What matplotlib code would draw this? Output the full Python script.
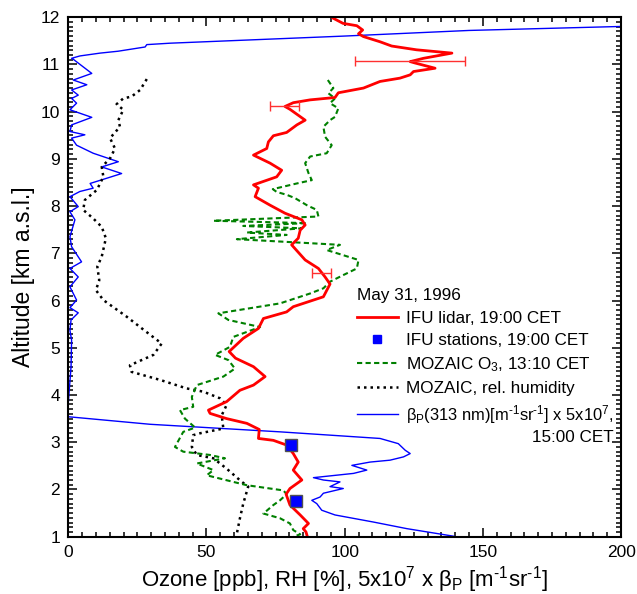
import matplotlib
matplotlib.use("Agg")
import matplotlib.pyplot as plt
from matplotlib.lines import Line2D
from matplotlib.ticker import MultipleLocator
import numpy as np

plt.rcParams['font.family'] = ['Liberation Sans', 'DejaVu Sans']
plt.rcParams['mathtext.fontset'] = 'custom'
plt.rcParams['mathtext.rm'] = 'Liberation Sans'
plt.rcParams['mathtext.it'] = 'Liberation Sans:italic'

# IFU lidar ozone profile (altitude km, ozone ppb)
lidar_alt = [11.98, 11.87, 11.82, 11.73, 11.65, 11.59, 11.48, 11.39, 11.31, 11.24,
             11.13, 11.06, 11.03, 10.92, 10.85, 10.78, 10.71, 10.64, 10.50, 10.40,
             10.30, 10.25, 10.19, 10.11, 10.05, 9.82, 9.72, 9.56, 9.49, 9.36,
             9.22, 9.08, 8.91, 8.76, 8.62, 8.45, 8.38, 8.20, 8.02, 7.85,
             7.71, 7.60, 7.49, 7.32, 7.18, 6.86, 6.68, 6.50, 6.35, 6.08,
             5.87, 5.76, 5.62, 5.41, 5.20, 4.92, 4.78, 4.60, 4.39, 4.21,
             4.10, 3.86, 3.68, 3.61, 3.50, 3.40, 3.27, 3.08, 3.04, 2.94,
             2.76, 2.58, 2.41, 2.20, 2.02, 1.90, 1.67, 1.46, 1.28, 1.17,
             1.10, 1.00]
lidar_o3 = [95.8, 99.4, 104.4, 106.5, 105.0, 106.8, 112.8, 117.0, 126.0, 138.8,
            128.5, 123.7, 125.5, 132.7, 124.9, 123.7, 120.0, 112.8, 106.8, 97.7,
            96.5, 87.5, 81.4, 78.4, 80.2, 85.7, 82.7, 79.0, 74.2, 72.4,
            71.8, 67.0, 73.0, 77.2, 75.4, 67.0, 68.8, 67.6, 73.0, 78.4,
            84.5, 85.7, 83.9, 83.2, 80.8, 85.7, 90.5, 92.9, 94.7, 92.3,
            81.4, 79.0, 70.6, 68.8, 63.3, 58.2, 60.5, 67.0, 71.2, 67.0,
            62.1, 57.3, 50.7, 51.3, 57.3, 64.6, 69.1, 68.8, 74.2, 79.0,
            81.4, 83.2, 81.4, 84.5, 80.2, 78.8, 80.2, 83.9, 86.9, 85.0,
            86.0, 86.5]

# lidar error bars (altitude, lower, upper)
err_alt = [11.08, 10.11, 6.58]
err_lo = [103.8, 72.8, 88.1]
err_hi = [143.5, 83.6, 95.1]

# IFU ground stations
station_alt = [2.95, 1.76]
station_o3 = [80.5, 82.3]

# MOZAIC aircraft ozone
moz_alt = [10.67, 10.50, 10.39, 10.28, 10.18, 10.07, 9.89, 9.82, 9.68, 9.47,
           9.29, 9.12, 9.05, 8.91, 8.70, 8.55, 8.48, 8.36, 8.30, 8.24,
           8.17, 8.02, 7.92, 7.78, 7.69, 7.64, 7.58, 7.53, 7.44, 7.39,
           7.30, 7.25, 7.18, 7.07, 6.86, 6.68, 6.54, 6.40, 6.26, 6.15,
           5.94, 5.73, 5.59, 5.44, 5.23, 5.02, 4.85, 4.74, 4.56, 4.39,
           4.21, 3.96, 3.75, 3.68, 3.50, 3.31, 3.22, 2.90, 2.80, 2.73,
           2.66, 2.55, 2.41, 2.30, 2.16, 2.09, 1.98, 1.90, 1.77, 1.67,
           1.49, 1.39, 1.28, 1.14, 1.05, 1.00]
moz_o3 = [93.9, 95.9, 94.1, 96.5, 94.7, 97.7, 96.5, 94.7, 92.3, 92.9,
          95.3, 93.5, 87.5, 85.7, 86.9, 88.1, 82.7, 74.0, 75.4, 79.0,
          82.0, 86.3, 89.9, 90.5, 52.5, 86.3, 63.3, 84.5, 64.6, 79.0,
          61.0, 76.6, 98.3, 93.5, 105.0, 104.4, 99.5, 94.7, 92.3, 87.5,
          76.6, 54.3, 57.9, 69.4, 59.7, 58.5, 53.1, 57.9, 60.3, 56.1,
          46.5, 44.7, 45.2, 40.4, 42.2, 45.9, 41.6, 38.6, 41.6, 51.3,
          56.7, 46.5, 52.5, 50.1, 59.7, 64.6, 77.8, 79.0, 76.6, 74.2,
          70.6, 76.6, 80.2, 81.4, 83.9, 81.4]

# MOZAIC relative humidity
rh_alt = [10.69, 10.46, 10.32, 10.28, 10.16, 10.04, 9.82, 9.68, 9.44, 9.22,
          9.01, 8.83, 8.62, 8.34, 8.13, 7.92, 7.74, 7.56, 7.32, 6.93,
          6.72, 6.43, 6.22, 6.01, 5.66, 5.37, 5.09, 4.85, 4.63, 4.49,
          4.32, 4.14, 4.07, 3.93, 3.79, 3.57, 3.29, 3.19, 3.15, 2.90,
          2.73, 2.66, 2.44, 2.16, 2.06, 1.70, 1.39, 1.07, 1.00]
rh_val = [28.4, 26.0, 22.9, 19.9, 17.5, 19.9, 18.1, 18.7, 15.1, 16.9,
          15.1, 12.1, 12.7, 10.3, 6.0, 5.4, 9.0, 12.1, 13.6, 12.1,
          10.5, 11.2, 10.0, 12.7, 21.1, 27.5, 33.8, 30.8, 22.3, 22.9,
          33.2, 42.8, 48.9, 54.9, 57.3, 55.5, 56.1, 47.7, 45.2, 44.7,
          46.5, 52.5, 57.3, 62.8, 65.1, 63.3, 62.1, 61.0, 60.7]

# particle backscatter at 313 nm, scaled by 5e7
beta_alt = [11.82, 11.72, 11.60, 11.45, 11.42, 11.37, 11.28, 11.24, 11.18, 11.13,
            11.11, 10.81, 10.67, 10.57, 10.46, 10.35, 10.28, 10.18, 10.04, 9.88,
            9.72, 9.58, 9.51, 9.44, 9.29, 9.12, 8.94, 8.83, 8.69, 8.59,
            8.48, 8.38, 8.31, 8.20, 7.99, 7.88, 7.71, 7.35, 7.14, 6.82,
            6.68, 6.50, 6.29, 6.01, 5.85, 5.74, 5.59, 5.37, 5.16, 4.60,
            3.83, 3.54, 3.38, 3.22, 3.08, 2.97, 2.83, 2.76, 2.69, 2.62,
            2.58, 2.51, 2.41, 2.34, 2.25, 2.20, 2.16, 2.06, 2.02, 1.92,
            1.84, 1.77, 1.70, 1.56, 1.46, 1.31, 1.17, 1.01, 1.00]
beta_val = [210.0, 145.0, 99.5, 36.8, 28.4, 27.8, 18.0, 11.5, 4.2, 1.2,
            1.8, 8.5, 1.8, 6.7, 1.2, 3.6, 1.2, 3.0, 0.6, 8.5,
            1.2, 0.6, 6.0, 1.2, 3.0, 9.0, 18.1, 12.1, 19.3, 13.9,
            7.9, 9.0, 4.2, 0.6, 3.6, 0.6, 2.4, 0.6, 1.2, 4.8,
            0.6, 3.6, 0.6, 3.0, 0.6, 3.6, 1.0, 0.6, 1.2, 1.0,
            0.0, 0.0, 29.6, 76.6, 112.8, 119.4, 121.9, 123.7, 121.3, 116.4,
            109.2, 102.6, 108.0, 103.2, 88.7, 92.3, 98.3, 94.7, 99.5, 92.3,
            91.1, 88.1, 89.9, 91.7, 96.5, 110.4, 122.5, 139.4, 140.0]

fig = plt.figure(figsize=(6.37, 5.94), dpi=100)
ax = fig.add_axes([0.1072, 0.0965, 0.8678, 0.8745])

ax.plot(beta_val, beta_alt, color='#0000ff', lw=1.0)
ax.plot(rh_val, rh_alt, color='black', lw=1.8, ls=(0, (1, 1.6)))
ax.plot(moz_o3, moz_alt, color='#008000', lw=1.5, ls=(0, (2.5, 1.6)))
ax.plot(lidar_o3, lidar_alt, color='#ff0000', lw=2.0)

err_lo = np.array(err_lo)
err_hi = np.array(err_hi)
ax.errorbar((err_lo + err_hi) / 2, err_alt, xerr=(err_hi - err_lo) / 2,
            fmt='none', ecolor='#ff3030', elinewidth=1.0, capsize=3.5, capthick=1.0)

ax.plot(station_o3, station_alt, ls='none', marker='s', ms=9,
        mfc='#0000ff', mec='#505050', mew=1.0)

ax.set_xlim(0, 200)
ax.set_ylim(1, 12)
ax.xaxis.set_major_locator(MultipleLocator(50))
ax.xaxis.set_minor_locator(MultipleLocator(5))
ax.yaxis.set_major_locator(MultipleLocator(1))
ax.yaxis.set_minor_locator(MultipleLocator(0.1))
ax.tick_params(which='both', direction='in', top=True, right=True, width=1.1)
ax.tick_params(which='major', length=6.5, labelsize=12.5, pad=6)
ax.tick_params(which='minor', length=3.5)
for sp in ax.spines.values():
    sp.set_linewidth(1.5)

# superscript exponents use a plain hyphen, not a minus sign
ax.set_xlabel("Ozone [ppb], RH [%], 5x10$^7$ x β$_\\mathrm{P}$ [m$^{‐1}$sr$^{‐1}$]",
              fontsize=16, labelpad=3)
ax.set_ylabel("Altitude [km a.s.l.]", fontsize=16.5, labelpad=4)

handles = [
    Line2D([], [], color='#ff0000', lw=2.0),
    Line2D([], [], ls='none', marker='s', ms=6, mfc='#0000ff', mec='#0000ff'),
    Line2D([], [], color='#008000', lw=1.5, ls=(0, (2.5, 1.6))),
    Line2D([], [], color='black', lw=1.8, ls=(0, (1, 1.6))),
    Line2D([], [], color='#0000ff', lw=1.0),
]
labels = [
    "IFU lidar, 19:00 CET",
    "IFU stations, 19:00 CET",
    "MOZAIC O$_3$, 13:10 CET",
    "MOZAIC, rel. humidity",
    "β$_\\mathrm{P}$(313 nm)[m$^{‐1}$sr$^{‐1}$] x 5x10$^7$,",
]
leg = ax.legend(handles, labels, title="May 31, 1996", loc='upper left',
                bbox_to_anchor=(0.522, 0.478), frameon=False, fontsize=12.3,
                title_fontsize=12.3, alignment='left', borderpad=0,
                borderaxespad=0, handlelength=2.4, handletextpad=0.5,
                labelspacing=0.42)
leg.get_texts()[-1].set_fontsize(11.9)

# second line of the last legend entry, right-aligned under the first
fig.canvas.draw()
bb = leg.get_texts()[-1].get_window_extent()
fig.text(bb.x1 / fig.dpi / 6.37, (bb.y0 - 4) / fig.dpi / 5.94, "15:00 CET",
         ha='right', va='top', fontsize=12.3)

fig.savefig("out.png", dpi=100)
